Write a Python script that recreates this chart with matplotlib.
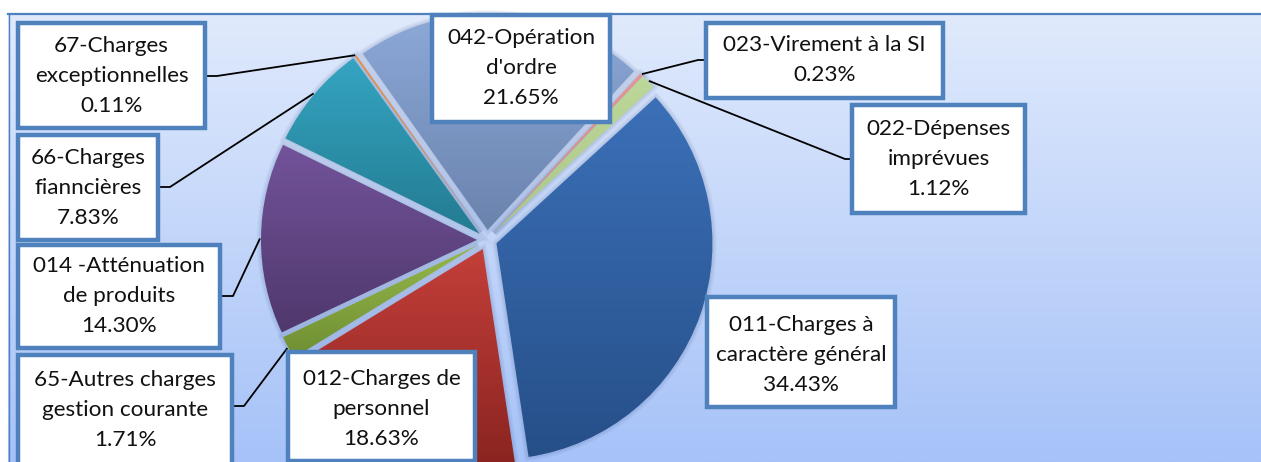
import numpy as np
import matplotlib
matplotlib.use("Agg")
import matplotlib.pyplot as plt
from matplotlib.patches import Rectangle, PathPatch
from matplotlib.colors import to_rgb

# ---------------- data ----------------
categories = [
    "011-Charges à\ncaractère général",
    "012-Charges de\npersonnel",
    "65-Autres charges\ngestion courante",
    "014 -Atténuation\nde produits",
    "66-Charges\nfianncières",
    "67-Charges\nexceptionnelles",
    "042-Opération\nd'ordre",
    "023-Virement à la SI",
    "022-Dépenses\nimprévues",
]
values = [34.43, 18.63, 1.71, 14.30, 7.83, 0.11, 21.65, 0.23, 1.12]

top_colors = ["#3b70b8", "#c43f3a", "#96b84a", "#73539b", "#35a5c2",
              "#f7852c", "#8da9d8", "#e99592", "#bed79a"]
bottom_colors = ["#264f88", "#8a2420", "#6e8e32", "#4f386c", "#237b91",
                 "#e0701c", "#6a83ad", "#d98380", "#aac788"]

# ---------------- layout (pixel coords, origin top-left) ----------------
W, H = 1261, 462
# box: (x0, y0, x1, y1), text centre y, leader: (anchor, elbow) or None
boxes = [
    (707, 297, 895, 407),
    (288, 352, 475, 461),
    (18, 355, 232, 472),
    (18, 245, 220, 348),
    (18, 135, 158, 240),
    (18, 23, 205, 128),
    (432, 15, 610, 122),
    (706, 23, 943, 98),
    (852, 105, 1025, 213),
]
text_cy = [355, 409, 410, 296, 188, 76, 68, 60, 159]
leaders = [
    None,
    None,
    ((232, 406), (244, 406)),
    ((220, 296), (233, 296)),
    ((158, 187), (170, 187)),
    ((205, 76), (217, 76)),
    None,
    ((706, 60), (698, 60)),
    ((852, 159), (845, 159)),
]

PIE_CX, PIE_CY, PIE_R = 487, 240, 216
EXPLODE_PX = 10


def Y(y):
    return H - y


plt.rcParams["font.family"] = ["Lato", "DejaVu Sans"]

fig = plt.figure(figsize=(W / 100, H / 100), dpi=100)
ax = fig.add_axes([0, 0, 1, 1])

# background gradient
grad = np.linspace(0, 1, 256)[:, None]
c_top = np.array(to_rgb("#e0eafc"))
c_bot = np.array(to_rgb("#a6c2f8"))
bg = c_top[None, None, :] * (1 - grad[:, :, None]) + c_bot[None, None, :] * grad[:, :, None]
ax.imshow(bg, extent=(8, W, 0, Y(13)), aspect="auto", zorder=0, interpolation="bilinear")
ax.plot([8, W], [Y(13.5), Y(13.5)], color="#4f7fbd", lw=1.6, zorder=1)
ax.plot([8.5, 8.5], [0, Y(13.5)], color="#4f7fbd", lw=1.0, zorder=1)

# pie
wedges, _ = ax.pie(values, radius=PIE_R, center=(PIE_CX, Y(PIE_CY)),
                   startangle=42.5, counterclock=False,
                   explode=[EXPLODE_PX] * len(values),
                   wedgeprops=dict(linewidth=0), frame=True)

for i, w in enumerate(wedges):
    path = w.get_path()
    bb = path.get_extents()
    # soft shadow
    for k, a in enumerate([0.05, 0.05, 0.06]):
        ax.add_patch(PathPatch(path, facecolor="none",
                               edgecolor=(0.15, 0.25, 0.45, a), lw=6 - 2 * k, zorder=2))
    w.set_facecolor("none")
    w.set_zorder(3)
    t = np.array(to_rgb(top_colors[i]))
    b = np.array(to_rgb(bottom_colors[i]))
    g = np.linspace(0, 1, 128)[:, None, None]
    img = t[None, None, :] * (1 - g) + b[None, None, :] * g
    im = ax.imshow(img, extent=(bb.x0 - 1, bb.x1 + 1, bb.y0 - 1, bb.y1 + 1),
                   aspect="auto", zorder=3, interpolation="bilinear")
    im.set_clip_path(w)

# labels
for i, (cat, val) in enumerate(zip(categories, values)):
    x0, y0, x1, y1 = boxes[i]
    ax.add_patch(Rectangle((x0 + 2, Y(y1) - 2), x1 - x0, y1 - y0,
                           facecolor=(0, 0, 0, 0.12), edgecolor="none", zorder=5))
    ax.add_patch(Rectangle((x0, Y(y1)), x1 - x0, y1 - y0, facecolor="white",
                           edgecolor="#4f81bd", lw=3.2, zorder=6))
    ax.text((x0 + x1) / 2, Y(text_cy[i]),
            f"{cat}\n{val:.2f}%", ha="center", va="center",
            fontsize=16.2, linespacing=1.6, color="#111111", zorder=7)
    if leaders[i] is not None:
        w = wedges[i]
        mid = np.deg2rad((w.theta1 + w.theta2) / 2)
        cx, cy = w.center
        ex = cx + (PIE_R + 1) * np.cos(mid)
        ey = cy + (PIE_R + 1) * np.sin(mid)
        (ax_, ay_), (bx_, by_) = leaders[i]
        ax.plot([ax_, bx_, ex], [Y(ay_), Y(by_), ey], color="black", lw=1.3,
                zorder=4, solid_capstyle="butt")

ax.set_xlim(0, W)
ax.set_ylim(0, H)
ax.set_aspect("auto")
ax.axis("off")
fig.savefig("out.png", dpi=100, facecolor="white")
